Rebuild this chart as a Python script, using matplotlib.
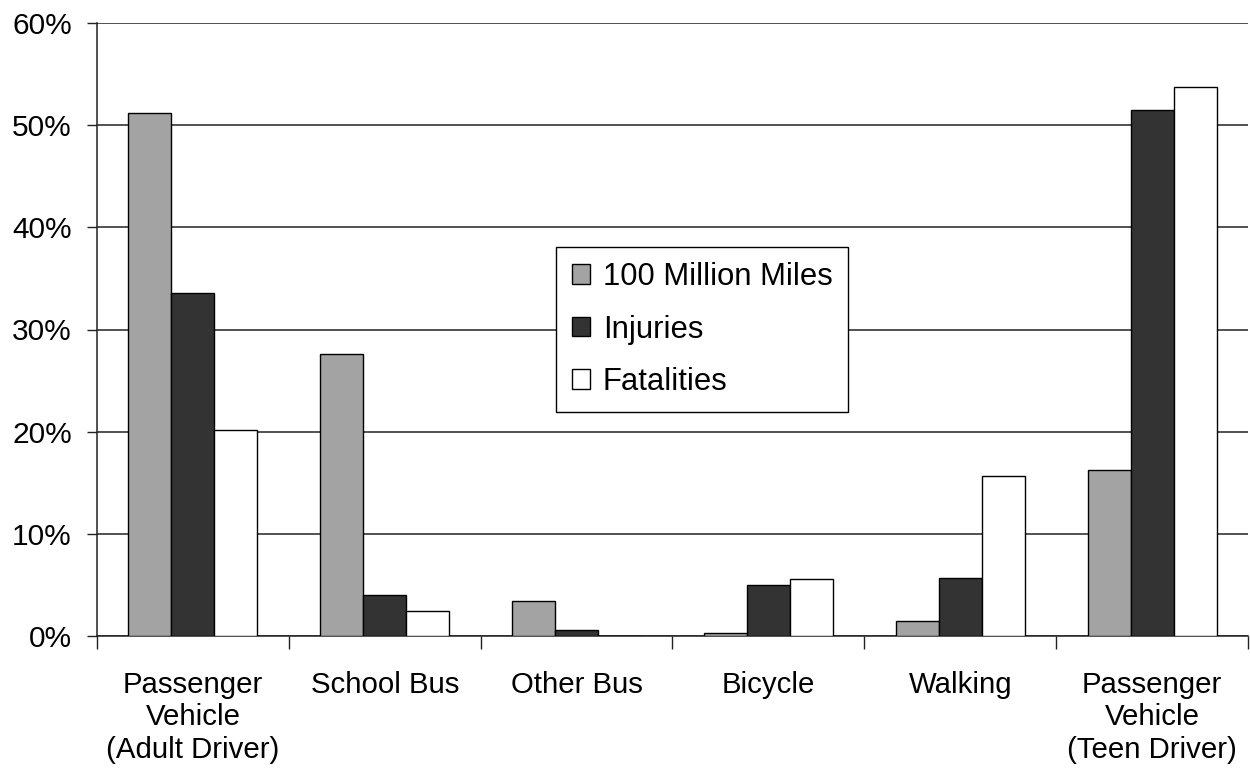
import numpy as np
from matplotlib import pyplot as plt
from matplotlib.ticker import FuncFormatter

categories = ["Passenger\nVehicle\n(Adult Driver)", "School Bus", "Other Bus",
              "Bicycle", "Walking", "Passenger\nVehicle\n(Teen Driver)"]
series_names = ["100 Million Miles", "Injuries", "Fatalities"]
miles = [51.2, 27.6, 3.4, 0.3, 1.5, 16.2]
injuries = [33.6, 4.0, 0.6, 5.0, 5.7, 51.5]
fatalities = [20.2, 2.4, 0.0, 5.6, 15.7, 53.7]
colors = ["#a3a3a3", "#333333", "#ffffff"]

plt.rcParams['font.family'] = ['Liberation Sans', 'DejaVu Sans']

fig = plt.figure(figsize=(12.5, 7.7), dpi=100)
ax = fig.add_axes([97 / 1250, 1 - 636 / 770, 1151 / 1250, 613 / 770])

x = np.arange(len(categories))
w = 0.224
for i, (vals, name) in enumerate(zip([miles, injuries, fatalities], series_names)):
    ax.bar(x + (i - 1) * w, vals, w, color=colors[i], edgecolor="black",
           linewidth=1, label=name, zorder=3)

ax.set_xlim(-0.5, len(categories) - 0.5)
ax.set_ylim(0, 60)
ax.set_yticks(range(0, 61, 10))
ax.yaxis.set_major_formatter(FuncFormatter(lambda v, p: "%d%%" % v))
ax.grid(axis="y", color="#222222", linewidth=1.1, zorder=0)

ax.set_xticks(x)
ax.set_xticklabels(categories, fontsize=21.2, linespacing=1.2)
ax.set_xticks(np.arange(-0.5, len(categories)), minor=True)
ax.tick_params(axis="x", which="major", length=0, pad=25)
ax.tick_params(axis="x", which="minor", length=9, width=1, color="#222222")
ax.tick_params(axis="y", length=7, width=1, color="#222222", pad=11, labelsize=21.5)

for s in ["top", "right"]:
    ax.spines[s].set_visible(False)
for s in ["left", "bottom"]:
    ax.spines[s].set_color("#222222")
    ax.spines[s].set_linewidth(1.1)

leg = ax.legend(loc="upper left", bbox_to_anchor=(0.399, 0.635), fontsize=22.3,
                fancybox=False, edgecolor="black", framealpha=1,
                handlelength=0.6, handleheight=0.6, handletextpad=0.4,
                labelspacing=0.72, borderpad=0.5, borderaxespad=0)
leg.get_frame().set_linewidth(1)

fig.savefig("out.png", dpi=100)
